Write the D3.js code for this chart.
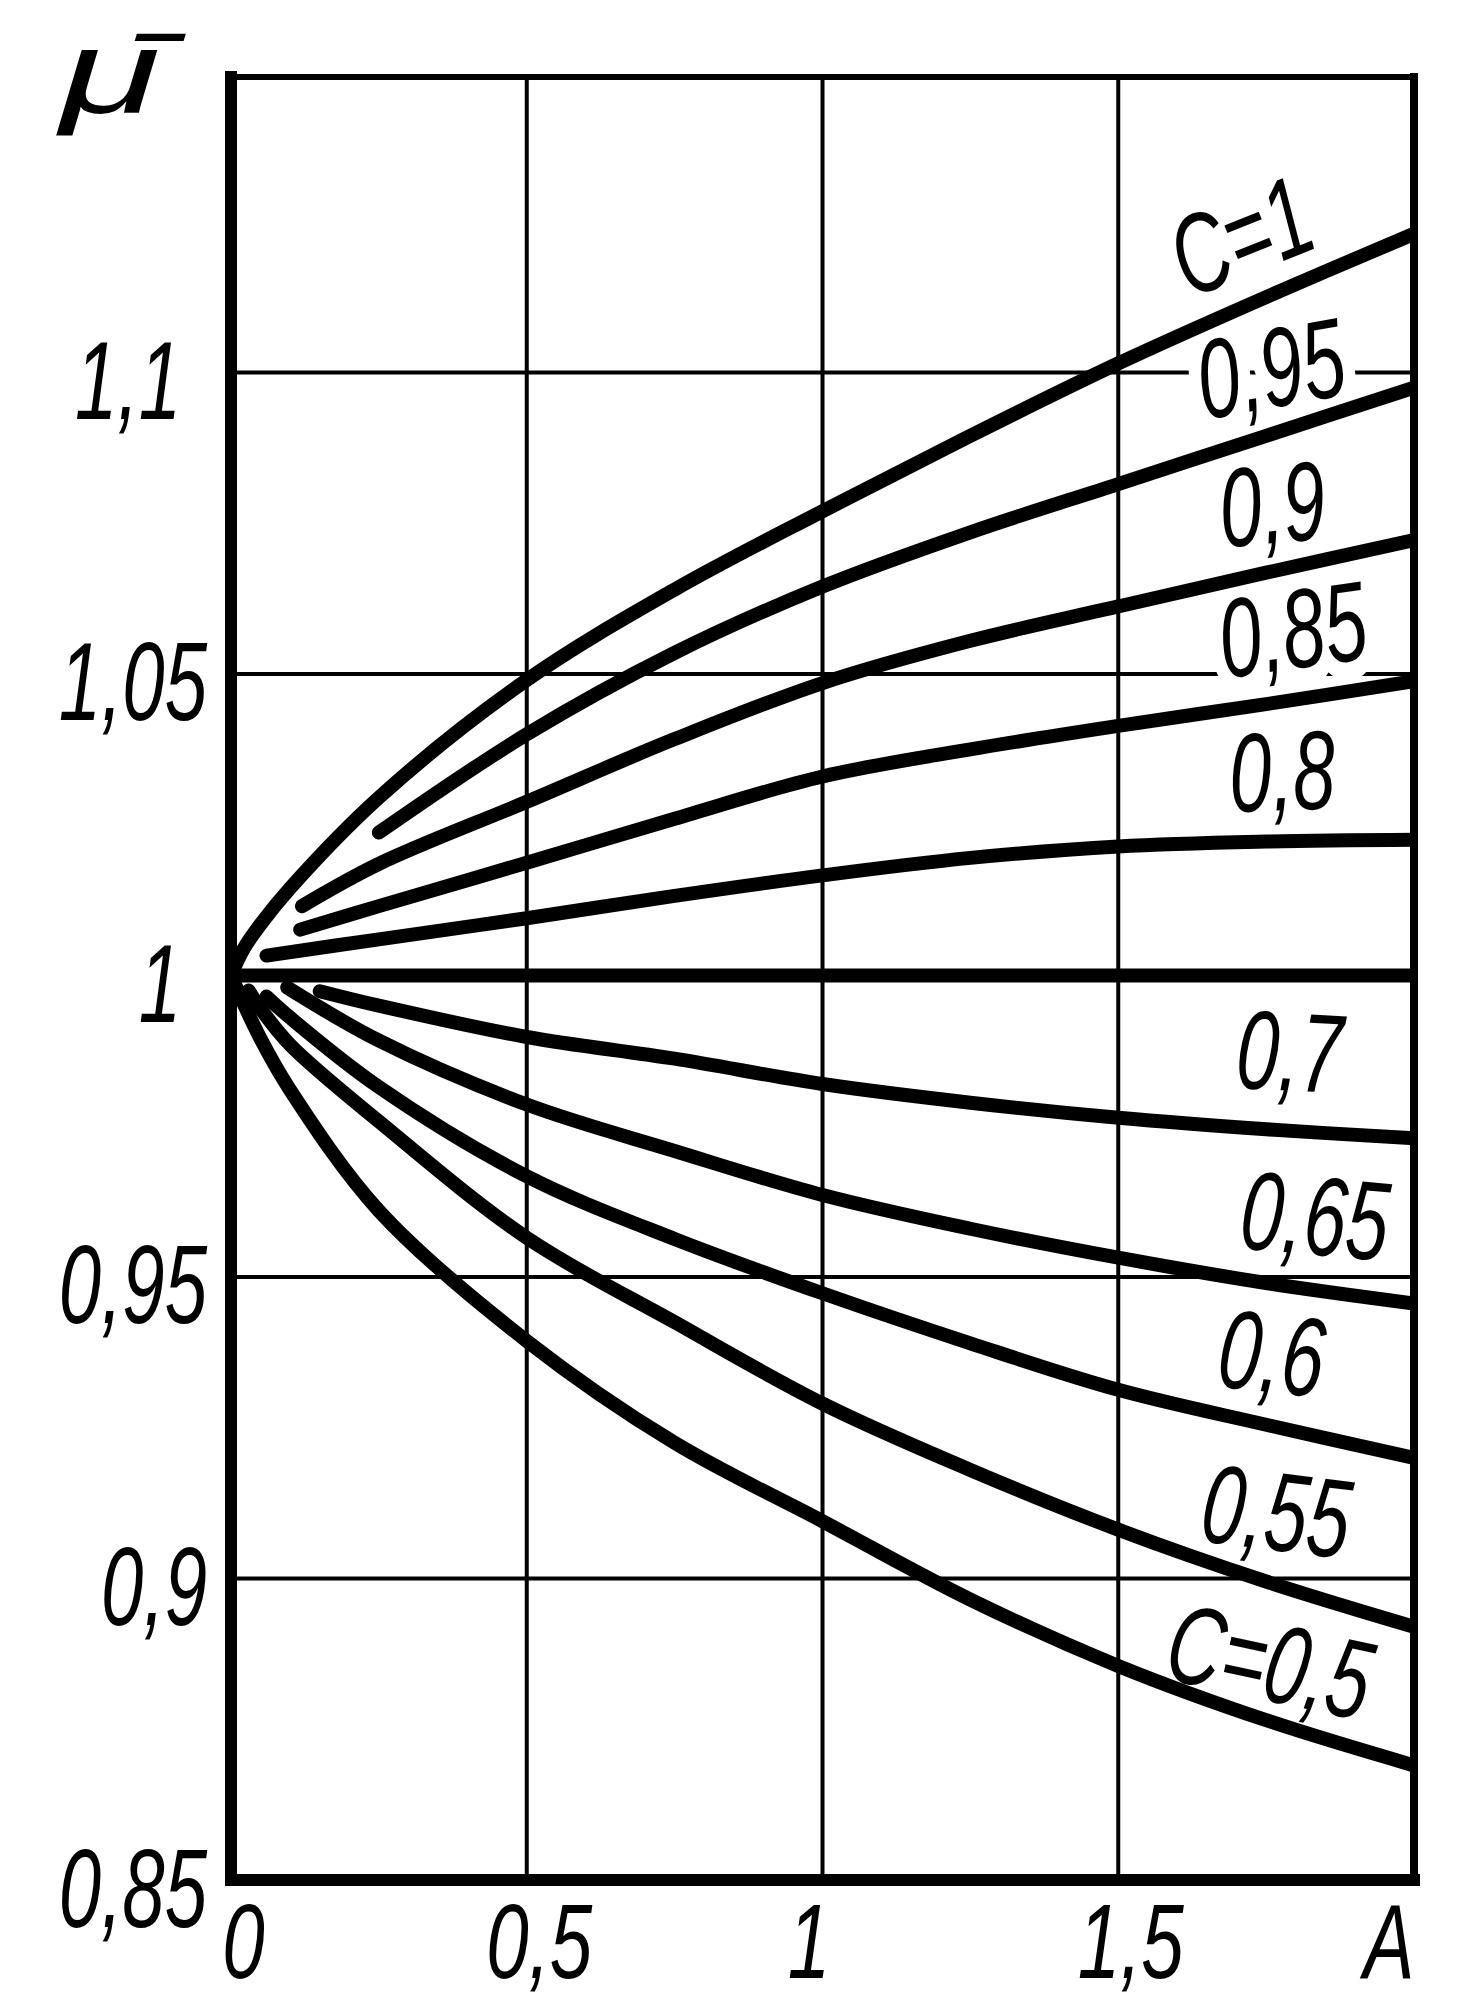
<!DOCTYPE html>
<html>
<head>
<meta charset="utf-8">
<script src="https://cdn.jsdelivr.net/npm/d3@7"></script>
<style>
  html, body { margin: 0; padding: 0; background: #fff; }
  svg { display: block; }
</style>
</head>
<body>
<svg id="chart" width="1467" height="2006"></svg>
<script>
// ---------------- data ----------------
const xTickValues = [0, 0.5, 1, 1.5, 2];
const xTickLabels = ["0", "0,5", "1", "1,5", "A"];
const yTickValues = [0.85, 0.9, 0.95, 1, 1.05, 1.1];
const yTickLabels = ["0,85", "0,9", "0,95", "1", "1,05", "1,1"];
const yTitle = "\u03BC\u0304";

const seriesC      = [1, 0.95, 0.9, 0.85, 0.8, 0.75, 0.7, 0.65, 0.6, 0.55, 0.5];
const seriesLabels = ["C=1", "0,95", "0,9", "0,85", "0,8", "", "0,7", "0,65", "0,6", "0,55", "C=0,5"];

const A_c100  = [0, 0.02, 0.05, 0.1, 0.25, 0.5, 0.75, 1, 1.25, 1.5, 1.75, 2];
const mu_c100 = [1, 1.0042, 1.0085, 1.0145, 1.0295, 1.049, 1.064, 1.077, 1.0895, 1.1015, 1.1125, 1.123];

const A_c095  = [0.25, 0.5, 0.75, 1, 1.25, 1.5, 1.75, 2];
const mu_c095 = [1.0237, 1.040, 1.0535, 1.0645, 1.0735, 1.0815, 1.0895, 1.0975];

const A_c090  = [0.12, 0.25, 0.5, 0.75, 1, 1.25, 1.5, 1.75, 2];
const mu_c090 = [1.0115, 1.0185, 1.0288, 1.0392, 1.0485, 1.0555, 1.0612, 1.0668, 1.0722];

const A_c085  = [0.117, 0.25, 0.5, 0.75, 1, 1.25, 1.5, 1.75, 2];
const mu_c085 = [1.0076, 1.0115, 1.0187, 1.026, 1.033, 1.0375, 1.0414, 1.045, 1.0488];

const A_c080  = [0.06, 0.25, 0.5, 0.75, 1, 1.25, 1.5, 1.75, 2];
const mu_c080 = [1.0033, 1.006, 1.0095, 1.0132, 1.0166, 1.0195, 1.0214, 1.0222, 1.0225];

const A_c075  = [0, 2];
const mu_c075 = [1, 1];

const A_c070  = [0.15, 0.25, 0.5, 0.75, 1, 1.25, 1.5, 1.75, 2];
const mu_c070 = [0.9974, 0.995, 0.9898, 0.9862, 0.982, 0.9789, 0.9764, 0.9745, 0.973];

const A_c065  = [0.095, 0.25, 0.5, 0.75, 1, 1.25, 1.5, 1.75, 2];
const mu_c065 = [0.998, 0.9892, 0.9786, 0.9709, 0.9636, 0.958, 0.9532, 0.949, 0.9456];

const A_c060  = [0.06, 0.1, 0.25, 0.5, 0.75, 1, 1.25, 1.5, 1.75, 2];
const mu_c060 = [0.9965, 0.993, 0.9815, 0.9667, 0.9563, 0.9473, 0.939, 0.9313, 0.9255, 0.920];

const A_c055  = [0.03, 0.05, 0.1, 0.25, 0.5, 0.75, 1, 1.25, 1.5, 1.75, 2];
const mu_c055 = [0.9975, 0.9945, 0.9885, 0.9758, 0.9565, 0.9425, 0.929, 0.918, 0.9081, 0.8995, 0.892];

const A_c050  = [0, 0.05, 0.1, 0.25, 0.5, 0.75, 1, 1.25, 1.5, 1.75, 2];
const mu_c050 = [1, 0.9895, 0.981, 0.961, 0.9394, 0.9225, 0.9095, 0.8965, 0.8855, 0.8765, 0.869];

const seriesA  = [A_c100, A_c095, A_c090, A_c085, A_c080, A_c075, A_c070, A_c065, A_c060, A_c055, A_c050];
const seriesMu = [mu_c100, mu_c095, mu_c090, mu_c085, mu_c080, mu_c075, mu_c070, mu_c065, mu_c060, mu_c055, mu_c050];

// ---------------- layout (drawing code) ----------------
const FONT = "'Liberation Sans', Arial, Helvetica, sans-serif";
const FS = 112;        // tick / label font size
const SX = 0.68;       // horizontal condensing of the lettering
const yTopValue = 1.149;
const ONE_SHIFT = -26; // italic "1" sits further left in the original lettering

// label anchors in data units [A, mu, rotation]
const labelPlacement = {
  "C=1":   [1.706, 1.1228, -22],
  "0,95":  [1.757, 1.1009, -10],
  "0,9":   [1.760, 1.0784, -5],
  "0,85":  [1.794, 1.0576, -8],
  "0,8":   [1.777, 1.0341, -2],
  "0,7":   [1.790, 0.9876, 3],
  "0,65":  [1.833, 0.9604, 5],
  "0,6":   [1.760, 0.9376, 6],
  "0,55":  [1.768, 0.9114, 7],
  "C=0,5": [1.757, 0.8865, 12]
};
const haloLabels = new Set(["0,95", "0,85"]);

const svg = d3.select("#chart");
svg.append("rect").attr("width", 1467).attr("height", 2006).attr("fill", "#fff");

const x = d3.scaleLinear().domain([0, 2]).range([231, 1414]);
const y = d3.scaleLinear().domain([0.85, yTopValue]).range([1880, 77]);

// clip
svg.append("defs").append("clipPath").attr("id", "plotclip")
  .append("rect")
  .attr("x", x(0)).attr("y", y(yTopValue))
  .attr("width", x(2) - x(0)).attr("height", y(0.85) - y(yTopValue));

// grid
const grid = svg.append("g").attr("stroke", "#000").attr("stroke-width", 4);
grid.selectAll("line.v").data(xTickValues.filter(v => v > 0 && v < 2)).enter()
  .append("line")
  .attr("x1", d => x(d)).attr("x2", d => x(d))
  .attr("y1", y(yTopValue)).attr("y2", y(0.85));
grid.selectAll("line.h").data(yTickValues.filter(v => v > 0.85)).enter()
  .append("line")
  .attr("x1", x(0)).attr("x2", x(2))
  .attr("y1", d => y(d)).attr("y2", d => y(d));

// curve labels
const labelsG = svg.append("g")
  .attr("font-family", FONT).attr("font-style", "italic")
  .attr("font-size", FS).attr("fill", "#000");
seriesLabels.forEach(lbl => {
  if (!lbl) return;
  const p = labelPlacement[lbl];
  const g = labelsG.append("g")
    .attr("transform", `translate(${x(p[0])},${y(p[1])}) rotate(${p[2]}) scale(${SX},1)`);
  const t = g.append("text").attr("text-anchor", "middle").attr("dy", "0.36em").text(lbl);
  if (haloLabels.has(lbl)) {
    t.attr("stroke", "#fff").attr("stroke-width", 36).attr("paint-order", "stroke")
     .attr("stroke-linejoin", "round");
  }
});

// curves
const line = d3.line().x(d => x(d[0])).y(d => y(d[1])).curve(d3.curveCatmullRom.alpha(0.5));
const curvesG = svg.append("g").attr("clip-path", "url(#plotclip)");
seriesC.forEach((c, i) => {
  const pts = seriesA[i].map((a, j) => [a, seriesMu[i][j]]);
  curvesG.append("path")
    .datum(pts)
    .attr("d", line)
    .attr("fill", "none")
    .attr("stroke", "#000")
    .attr("stroke-width", 14)
    .attr("stroke-linecap", "round")
    .attr("stroke-linejoin", "round");
});

// frame
const frame = svg.append("g").attr("stroke", "#000").attr("stroke-linecap", "square");
frame.append("line").attr("x1", x(0)).attr("x2", x(2)).attr("y1", y(yTopValue)).attr("y2", y(yTopValue)).attr("stroke-width", 6);
frame.append("line").attr("x1", x(2)).attr("x2", x(2)).attr("y1", y(yTopValue)).attr("y2", y(0.85)).attr("stroke-width", 8);
frame.append("line").attr("x1", x(0)).attr("x2", x(0)).attr("y1", y(yTopValue)).attr("y2", y(0.85)).attr("stroke-width", 12);
frame.append("line").attr("x1", x(0)).attr("x2", x(2)).attr("y1", y(0.85)).attr("y2", y(0.85)).attr("stroke-width", 12);

// y axis
const yAxis = d3.axisLeft(y).tickValues(yTickValues)
  .tickFormat((d, i) => yTickLabels[i]).tickSize(0).tickPadding(0);
const yAxisG = svg.append("g").attr("transform", `translate(${x(0)},0)`).call(yAxis);
yAxisG.select(".domain").remove();
yAxisG.selectAll("text")
  .attr("x", null).attr("dy", null)
  .attr("transform", function () {
    const s = d3.select(this).text();
    const dx = -24 + (s.endsWith("1") ? ONE_SHIFT : 0);
    return `translate(${dx},46) scale(${SX},1)`;
  })
  .attr("text-anchor", "end")
  .attr("font-family", FONT).attr("font-style", "italic")
  .attr("font-size", FS).attr("fill", "#000");

// x axis
const XFS = 106;
const xAxis = d3.axisBottom(x).tickValues(xTickValues)
  .tickFormat((d, i) => xTickLabels[i]).tickSize(0).tickPadding(0);
const xAxisG = svg.append("g").attr("transform", `translate(0,${y(0.85)})`).call(xAxis);
xAxisG.select(".domain").remove();
xAxisG.selectAll("text")
  .attr("y", null).attr("dy", null)
  .attr("transform", function (d) {
    const s = d3.select(this).text();
    const dx = d === 2 ? 0 : 12 + (s.endsWith("1") ? ONE_SHIFT : 0);
    return `translate(${dx},98) scale(${SX + 0.04},1)`;
  })
  .attr("text-anchor", d => d === 2 ? "end" : "middle")
  .attr("font-family", FONT).attr("font-style", "italic")
  .attr("font-size", XFS).attr("fill", "#000");

// y title: mu with a macron (single text, combining mark)
svg.append("g").attr("transform", "translate(60,113) scale(1.55,1)")
  .append("text")
  .attr("font-family", FONT).attr("font-style", "italic").attr("fill", "#000")
  .attr("font-size", 118)
  .text(yTitle);
</script>
</body>
</html>
